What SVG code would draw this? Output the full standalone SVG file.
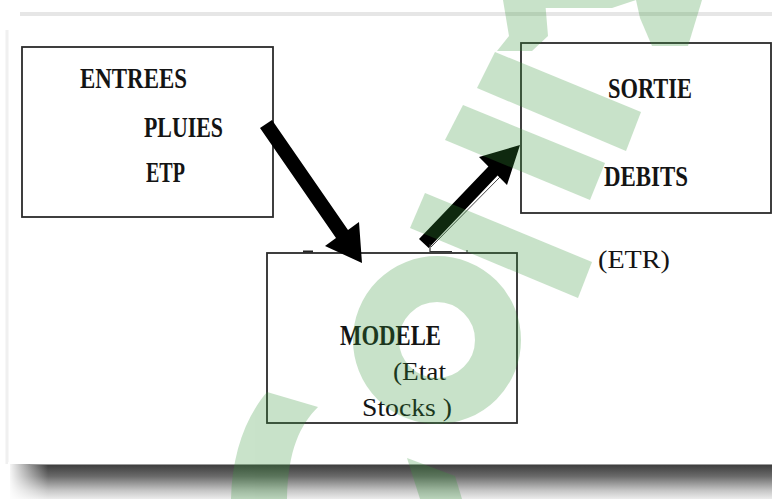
<svg xmlns="http://www.w3.org/2000/svg" width="772" height="499" viewBox="0 0 772 499">
<defs>
<style>
.box{fill:none;stroke:#2b2b2b;stroke-width:1.8}
.b{font-family:"Liberation Serif","Times New Roman",serif;font-weight:bold;font-size:30px;fill:#141414}
.r{font-family:"Liberation Serif","Times New Roman",serif;font-size:26px;fill:#141414}
.arrow{fill:#000}
.wm{fill:#37963a}
</style>
<linearGradient id="shadow" x1="0" y1="0" x2="0" y2="1">
<stop offset="0" stop-color="#3a3a3a"/>
<stop offset="0.35" stop-color="#6a6a6a"/>
<stop offset="0.75" stop-color="#c4c4c4"/>
<stop offset="1" stop-color="#ececec"/>
</linearGradient>
<linearGradient id="fadeL" x1="0" y1="0" x2="1" y2="0">
<stop offset="0" stop-color="#fff" stop-opacity="1"/>
<stop offset="1" stop-color="#fff" stop-opacity="0"/>
</linearGradient>
</defs>
<rect width="772" height="499" fill="#fff"/>
<g id="page">
<line x1="20" y1="14" x2="772" y2="14" stroke="#e6e6e6" stroke-width="4"/>
<line x1="7" y1="30" x2="7" y2="464" stroke="#f0f0f0" stroke-width="3"/>
<rect x="10" y="464" width="762" height="35" fill="url(#shadow)"/>
<rect x="8" y="462" width="40" height="37" fill="url(#fadeL)"/>
<line x1="30" y1="464.5" x2="772" y2="464.5" stroke="#9a9a9a" stroke-width="1"/>
</g>
<g id="entrees">
<rect class="box" x="22" y="47" width="251" height="170"/>
<text class="b" x="80" y="88" textLength="107" lengthAdjust="spacingAndGlyphs">ENTREES</text>
<text class="b" x="144" y="137" textLength="79" lengthAdjust="spacingAndGlyphs">PLUIES</text>
<text class="b" x="146" y="182" textLength="39" lengthAdjust="spacingAndGlyphs">ETP</text>
</g>
<g id="sortie">
<rect class="box" x="521" y="43" width="250" height="170"/>
<text class="b" x="608" y="98" textLength="84" lengthAdjust="spacingAndGlyphs">SORTIE</text>
<text class="b" x="604" y="186" textLength="84" lengthAdjust="spacingAndGlyphs">DEBITS</text>
</g>
<g id="etr">
<text class="r" x="598" y="268" font-size="29" textLength="72" lengthAdjust="spacingAndGlyphs">(ETR)</text>
</g>
<g id="modele">
<rect class="box" x="267" y="253" width="250" height="170"/>
<text class="b" x="340" y="345" font-size="28" textLength="101" lengthAdjust="spacingAndGlyphs">MODELE</text>
<text class="r" x="393" y="380" textLength="53" lengthAdjust="spacingAndGlyphs">(Etat</text>
<text class="r" x="362" y="416" textLength="90" lengthAdjust="spacingAndGlyphs">Stocks )</text>
</g>
<g id="connectors">
<polygon class="arrow" points="272,120 348,230 359,222 362,263 325,246 336,238 260,128"/>
<polygon class="arrow" points="419,239 488.4,166.5 479,157 520,145 507,185 497.6,175.5 428.7,248"/>
<polyline points="430,244 430,251.5 452,251.5" fill="none" stroke="#333" stroke-width="1.2"/>
<line x1="431" y1="247" x2="500" y2="177" stroke="#444" stroke-width="1"/>
<line x1="303" y1="251.5" x2="313" y2="251.5" stroke="#222" stroke-width="2"/>
<line x1="467" y1="250" x2="467" y2="253" stroke="#333" stroke-width="1"/>
</g>
<g id="watermark" opacity="0.27">
<path class="wm" d="M503,0 L545,0 L548,36 L532,51 L497,51 L509,36 Z"/>
<path class="wm" d="M537,0 L636,0 L612,8 L545,8 Z"/>
<path class="wm" d="M636,0 L702,0 L688,46 L652,46 L640,18 Z"/>
<path class="wm" d="M495,52 L641,112 L626,151 L477,88 Z"/>
<path class="wm" d="M463,105 L605,163 L590,200 L445,140 Z"/>
<path class="wm" d="M425,193 L592,262 L578,298 L410,228 Z"/>
<circle cx="437" cy="340" r="61" fill="none" stroke="#37963a" stroke-width="46"/>
<path class="wm" d="M267,392 L318,407 C300,425 288,450 287,499 L231,499 C232,455 245,418 267,392 Z"/>
<path class="wm" d="M407,458 L455,476 L462,499 L420,499 Z"/>
</g>
</svg>
